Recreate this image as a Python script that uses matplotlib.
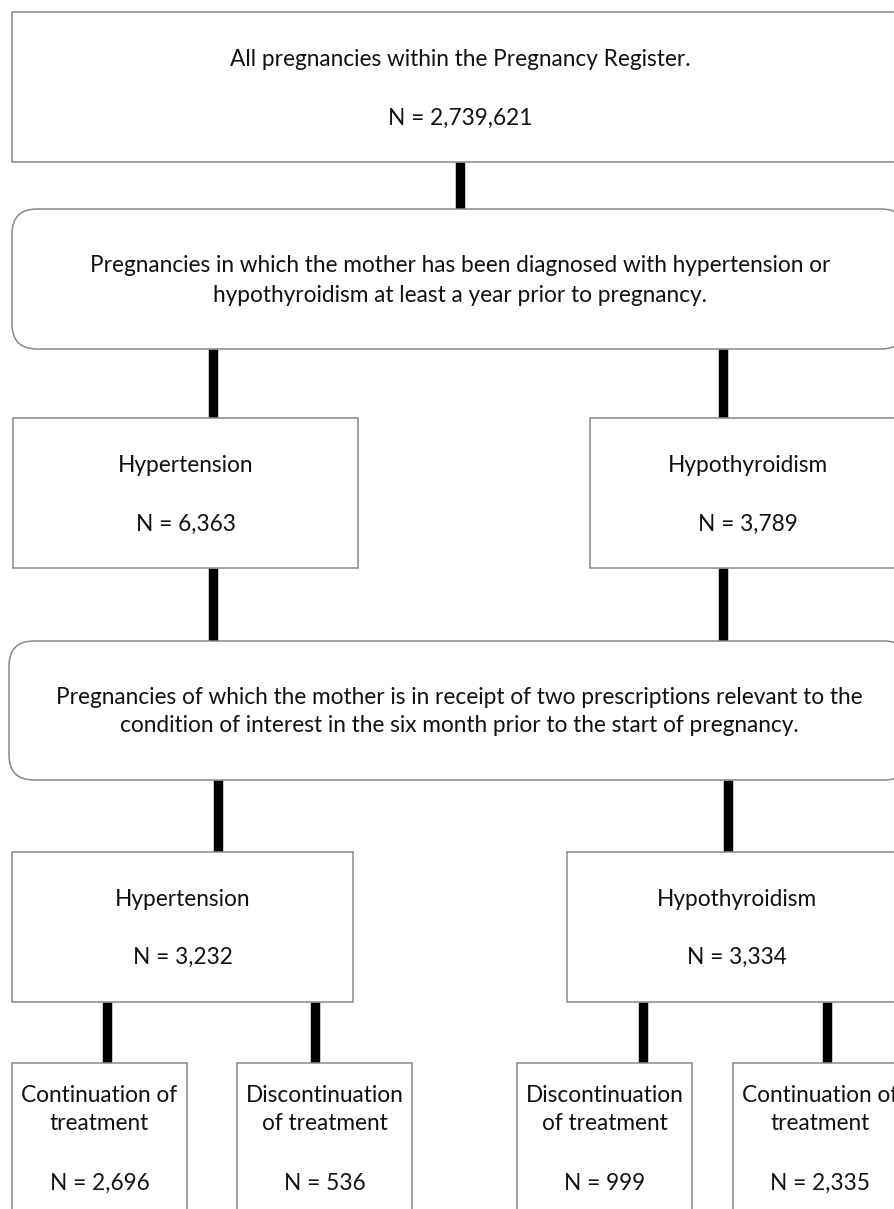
import matplotlib
matplotlib.use("Agg")
import matplotlib.pyplot as plt
from matplotlib.patches import Rectangle, FancyBboxPatch

# flowchart content
top_label = "All pregnancies within the Pregnancy Register."
top_n = 2739621
diagnosis_label = ("Pregnancies in which the mother has been diagnosed with hypertension or\n"
                   "hypothyroidism at least a year prior to pregnancy.")
conditions = ["Hypertension", "Hypothyroidism"]
diagnosed_n = [6363, 3789]
prescription_label = ("Pregnancies of which the mother is in receipt of two prescriptions relevant to the\n"
                      "condition of interest in the six month prior to the start of pregnancy.")
prescribed_n = [3232, 3334]
outcome_labels = ["Continuation of\ntreatment", "Discontinuation\nof treatment",
                  "Discontinuation\nof treatment", "Continuation of\ntreatment"]
outcome_n = [2696, 536, 999, 2335]

W, H = 894, 1209
EDGE = "#888888"
TXT = "#111111"
FS = 16.3
LINE = 29  # px between wrapped lines

plt.rcParams['font.family'] = ['Lato', 'DejaVu Sans']

fig = plt.figure(figsize=(W / 100, H / 100), dpi=100)
fig.patch.set_facecolor('white')
ax = fig.add_axes([0, 0, 1, 1])
ax.set_xlim(0, W)
ax.set_ylim(H, 0)
ax.axis('off')


def box(x0, y0, x1, y1, rounded=False):
    if rounded:
        p = FancyBboxPatch((x0, y0), x1 - x0, y1 - y0,
                           boxstyle="round,pad=0,rounding_size=25",
                           facecolor='white', edgecolor=EDGE, lw=1.1, zorder=2)
    else:
        p = Rectangle((x0, y0), x1 - x0, y1 - y0,
                      facecolor='white', edgecolor=EDGE, lw=1.1, zorder=2)
    ax.add_patch(p)


def link(x, y0, y1):
    ax.plot([x, x], [y0, y1], color='black', lw=6.8, solid_capstyle='butt', zorder=1)


def lines(cx, y, text):
    for i, s in enumerate(text.split('\n')):
        ax.text(cx, y + i * LINE, s, ha='center', va='center',
                fontsize=FS, color=TXT, zorder=3)


def fmt(n):
    return f"N = {n:,}"


# level 0
box(12, 12, 910, 162)
lines(460, 59, top_label)
lines(460, 118, fmt(top_n))
link(460, 162, 209)

# level 1
box(12, 209, 906, 349, rounded=True)
lines(460, 266, diagnosis_label)

# level 2: diagnosed
diag_boxes = [(13, 358), (590, 906)]
diag_links = [213, 723]
for (x0, x1), lx, name, n in zip(diag_boxes, diag_links, conditions, diagnosed_n):
    link(lx, 349, 418)
    box(x0, 418, x1, 568)
    cx = (x0 + x1) / 2
    lines(cx, 465, name)
    lines(cx, 524, fmt(n))
    link(lx, 568, 641)

# level 3
box(9, 641, 909, 780, rounded=True)
lines(459, 697, prescription_label)

# level 4: prescribed
pres_boxes = [(12, 353), (567, 907)]
pres_links = [218, 728]
for (x0, x1), lx, name, n in zip(pres_boxes, pres_links, conditions, prescribed_n):
    link(lx, 780, 852)
    box(x0, 852, x1, 1002)
    cx = (x0 + x1) / 2
    lines(cx, 899, name)
    lines(cx, 957, fmt(n))

# level 5: outcomes
out_boxes = [(12, 187), (237, 412), (517, 692), (733, 908)]
out_links = [107, 315, 643, 827]
for (x0, x1), lx, lab, n in zip(out_boxes, out_links, outcome_labels, outcome_n):
    link(lx, 1002, 1063)
    box(x0, 1063, x1, H + 10)
    cx = (x0 + x1) / 2
    lines(cx, 1095, lab)
    lines(cx, 1183, fmt(n))

fig.savefig("out.png", dpi=100, facecolor='white')
